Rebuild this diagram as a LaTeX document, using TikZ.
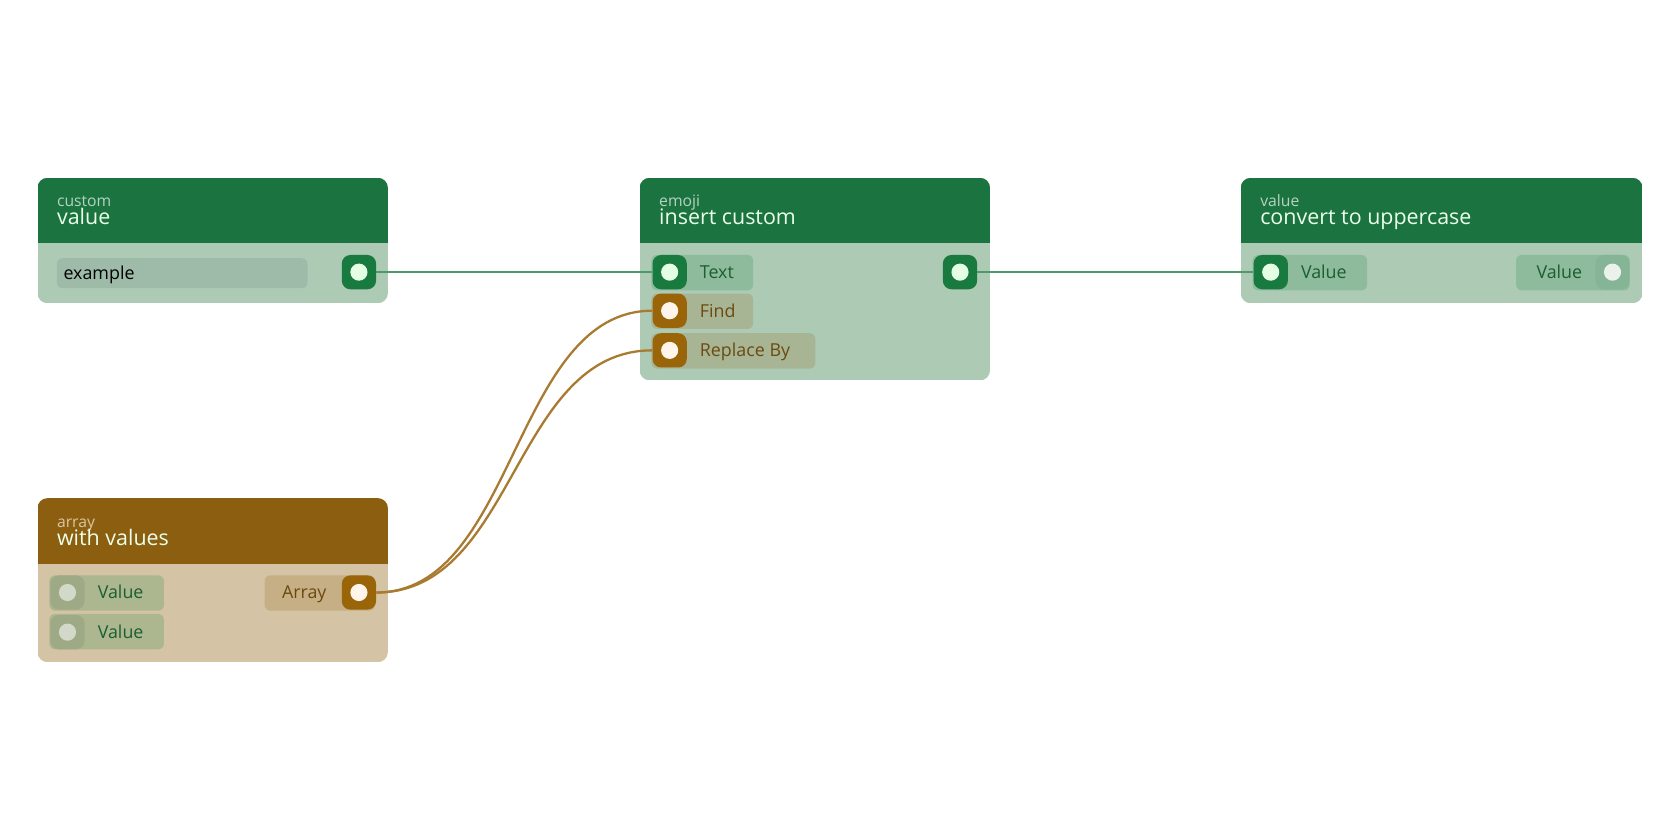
\documentclass[tikz,border=0pt]{standalone}
\usepackage{fontspec}
\setmainfont{Open Sans}
\definecolor{headG}{HTML}{1B7340}
\definecolor{bodyG}{HTML}{ADCAB5}
\definecolor{headB}{HTML}{8B5E10}
\definecolor{bodyB}{HTML}{D4C4A5}
\definecolor{fieldG}{HTML}{9DBBA8}
\definecolor{portG}{HTML}{187A3E}
\definecolor{portB}{HTML}{9A6408}
\definecolor{pillG}{HTML}{8DBB9C}
\definecolor{pillF}{HTML}{A8B595}
\definecolor{pillA}{HTML}{C6AE85}
\definecolor{pillV}{HTML}{ACB790}
\definecolor{portV}{HTML}{9EAA85}
\definecolor{portM}{HTML}{86B496}
\definecolor{txtG}{HTML}{1B5E30}
\definecolor{txtB}{HTML}{6B4A10}
\definecolor{subG}{HTML}{B5D3BF}
\definecolor{subB}{HTML}{D9C6A2}
\definecolor{edgeG}{HTML}{4A9A6A}
\definecolor{edgeB}{HTML}{A87B30}
\tikzset{
  port/.style={rectangle,rounded corners=6pt,minimum width=24pt,minimum height=24pt,inner sep=0pt,fill=#1},
  sub/.style={anchor=base west,inner sep=0pt,font=\fontsize{11}{11}\selectfont,text=#1},
  ttl/.style={anchor=base west,inner sep=0pt,font=\fontsize{15}{15}\selectfont,text=white!92!green},
  lbl/.style={anchor=mid west,yshift=-1.8pt,inner sep=0pt,font=\fontsize{12.5}{12.5}\selectfont,text=#1},
  lblr/.style={anchor=mid east,yshift=-1.8pt,inner sep=0pt,font=\fontsize{12.5}{12.5}\selectfont,text=#1},
  gedge/.style={draw=edgeG,line width=1.6pt},
  bedge/.style={draw=edgeB,line width=1.6pt},
}
\newcommand{\nbox}[7]{%
  \begin{scope}
  \clip[rounded corners=7pt] (#1,#2) rectangle (#3,#4);
  \fill[#7] (#1,#2) rectangle (#3,#4);
  \fill[#6] (#1,#2) rectangle (#3,#5);
  \end{scope}}
\newcommand{\pill}[5]{\fill[#5,rounded corners=4pt] (#1,#2) rectangle (#3,#4);}
\newcommand{\dotin}[2]{\fill[#2] (#1) circle (6pt);}
\begin{document}
\begin{tikzpicture}[x=0.75pt,y=-0.75pt]
\useasboundingbox (0,0) rectangle (1568,784);
\fill[white] (0,0) rectangle (1568,784);
% node 1
\nbox{35}{166}{362}{283}{227}{headG}{bodyG}
\node[sub=subG] (s1) at (53,193) {custom};
\node[ttl] (t1) at (53,210) {value};
\pill{53}{241}{287}{269}{fieldG}
\node[lbl=black] (f1) at (59,255) {example};
\node[port=portG] (o1) at (335,254) {};
% node 2
\nbox{597}{166}{924}{355}{227}{headG}{bodyG}
\node[sub=subG] (s2) at (615,193) {emoji};
\node[ttl] (t2) at (615,210) {insert custom};
\pill{608}{238}{703}{271}{pillG}
\pill{608}{274}{703}{307}{pillF}
\pill{608}{311}{761}{344}{pillF}
\node[port=portG] (iT) at (625,254) {};
\node[port=portB] (iF) at (625,290) {};
\node[port=portB] (iR) at (625,327) {};
\node[lbl=txtG] (lT) at (653,254) {Text};
\node[lbl=txtB] (lF) at (653,290) {Find};
\node[lbl=txtB] (lR) at (653,327) {Replace By};
\node[port=portG] (o2) at (896,254) {};
% node 3
\nbox{1158}{166}{1533}{283}{227}{headG}{bodyG}
\node[sub=subG] (s3) at (1176,193) {value};
\node[ttl] (t3) at (1176,210) {convert to uppercase};
\pill{1169}{238}{1276}{271}{pillG}
\pill{1415}{238}{1521}{271}{pillG}
\node[port=portG] (iV) at (1186,254) {};
\node[port=portM] (oV) at (1505,254) {};
\node[lbl=txtG] (lV) at (1214,254) {Value};
\node[lblr=txtG] (lV2) at (1477,254) {Value};
% node 4
\nbox{35}{465}{362}{618}{526}{headB}{bodyB}
\node[sub=subB] (s4) at (53,492) {array};
\node[ttl] (t4) at (53,509) {with values};
\pill{46}{537}{153}{570}{pillV}
\pill{46}{573}{153}{606}{pillV}
\pill{247}{537}{350}{570}{pillA}
\node[port=portV] (v1) at (63,553) {};
\node[port=portV] (v2) at (63,590) {};
\node[lbl=txtG] (lv1) at (91,553) {Value};
\node[lbl=txtG] (lv2) at (91,590) {Value};
\node[lblr=txtB] (la) at (305,553) {Array};
\node[port=portB] (oA) at (335,553) {};
% dots
\dotin{o1}{white!90!green}
\dotin{iT}{white!90!green}
\dotin{o2}{white!90!green}
\dotin{iV}{white!90!green}
\dotin{iF}{white!92!orange}
\dotin{iR}{white!92!orange}
\dotin{oA}{white!92!orange}
\fill[white!75!bodyG] (oV) circle (6pt);
\fill[white!55!portV] (v1) circle (6pt);
\fill[white!55!portV] (v2) circle (6pt);
% connectors
\draw[gedge] (o1.east) -- (iT.west);
\draw[gedge] (o2.east) -- (iV.west);
\draw[bedge] (oA.east) .. controls +(130,0) and +(-130,0) .. (iF.west);
\draw[bedge] (oA.east) .. controls +(130,0) and +(-130,0) .. (iR.west);
\end{tikzpicture}
\end{document}
